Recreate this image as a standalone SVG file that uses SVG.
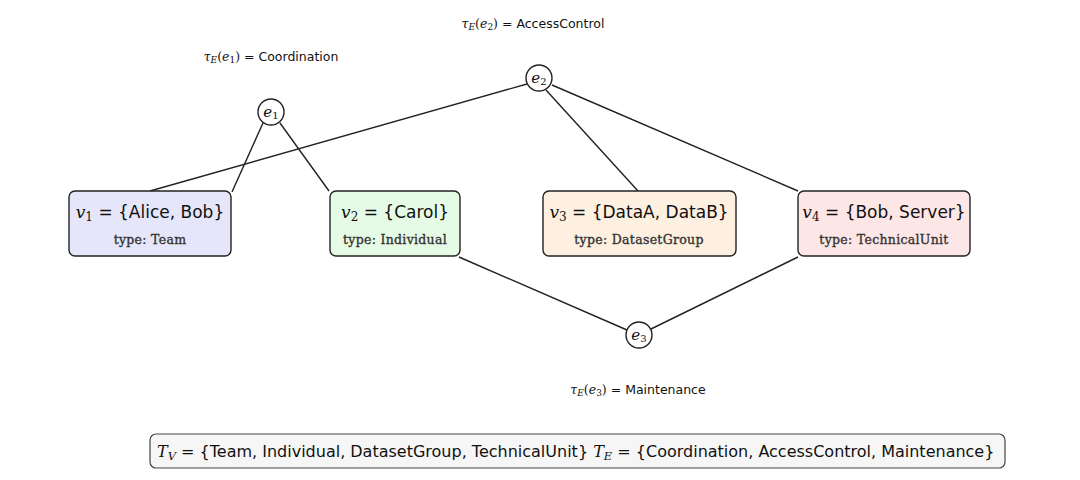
<svg xmlns="http://www.w3.org/2000/svg" width="1080" height="480" viewBox="0 0 1080 480">
<style>
.box{stroke:#222;stroke-width:1.4}
.circ{fill:#fff;stroke:#222;stroke-width:1.4}
.edge{stroke:#222;stroke-width:1.4;fill:none}
.m{font-family:"DejaVu Serif","Liberation Serif",serif;font-style:italic}
.n{font-family:"DejaVu Serif","Liberation Serif",serif;font-style:normal}
.s{font-family:"DejaVu Sans","Liberation Sans",sans-serif;font-style:normal}
.main{font-size:17px;fill:#111}
.type{font-family:"DejaVu Serif","Liberation Serif",serif;font-size:12.5px;letter-spacing:0.3px;fill:#333;stroke:#333;stroke-width:0.35}
.lab{font-size:12.5px;fill:#111}
.ev{font-family:"DejaVu Serif","Liberation Serif",serif;font-style:italic;font-size:15px;fill:#111}
</style>
<g id="connectors">
<line class="edge" x1="263" y1="123" x2="232" y2="192"/>
<line class="edge" x1="280" y1="123" x2="329" y2="191"/>
<line class="edge" x1="527" y1="84" x2="150" y2="191"/>
<line class="edge" x1="546" y1="90" x2="638" y2="191"/>
<line class="edge" x1="552" y1="85" x2="798" y2="191"/>
<line class="edge" x1="459" y1="257" x2="627" y2="330"/>
<line class="edge" x1="798" y1="257" x2="651" y2="329"/>
</g>
<g id="v1">
<rect class="box" x="69" y="191" width="162" height="65" rx="6" fill="#e6e6fb"/>
<text class="main" x="150" y="218" text-anchor="middle"><tspan class="m">v</tspan><tspan class="n" font-size="12" dy="3">1</tspan><tspan class="s" dy="-3"> = {Alice, Bob}</tspan></text>
<text class="type" x="150" y="244" text-anchor="middle">type:  Team</text>
</g>
<g id="v2">
<rect class="box" x="330" y="191" width="130" height="65" rx="6" fill="#e6fbe6"/>
<text class="main" x="395" y="218" text-anchor="middle"><tspan class="m">v</tspan><tspan class="n" font-size="12" dy="3">2</tspan><tspan class="s" dy="-3"> = {Carol}</tspan></text>
<text class="type" x="395" y="244" text-anchor="middle">type:  Individual</text>
</g>
<g id="v3">
<rect class="box" x="543" y="191" width="193" height="65" rx="6" fill="#fdf0e0"/>
<text class="main" x="639" y="218" text-anchor="middle"><tspan class="m">v</tspan><tspan class="n" font-size="12" dy="3">3</tspan><tspan class="s" dy="-3"> = {DataA, DataB}</tspan></text>
<text class="type" x="639" y="244" text-anchor="middle">type:  DatasetGroup</text>
</g>
<g id="v4">
<rect class="box" x="798" y="191" width="172" height="65" rx="6" fill="#fde6e6"/>
<text class="main" x="884" y="218" text-anchor="middle"><tspan class="m">v</tspan><tspan class="n" font-size="12" dy="3">4</tspan><tspan class="s" dy="-3"> = {Bob, Server}</tspan></text>
<text class="type" x="884" y="244" text-anchor="middle">type:  TechnicalUnit</text>
</g>
<g id="e1">
<circle class="circ" cx="271" cy="112" r="13"/>
<text class="ev" x="271" y="117" text-anchor="middle">e<tspan class="n" font-size="10" dy="2">1</tspan></text>
<text class="lab" x="271" y="61" text-anchor="middle"><tspan class="m">τ</tspan><tspan class="m" font-size="9" dy="2">E</tspan><tspan class="n" dy="-2">(</tspan><tspan class="m">e</tspan><tspan class="n" font-size="9" dy="2">1</tspan><tspan class="n" dy="-2">)</tspan><tspan class="s"> = Coordination</tspan></text>
</g>
<g id="e2">
<circle class="circ" cx="539" cy="78" r="13"/>
<text class="ev" x="539" y="83" text-anchor="middle">e<tspan class="n" font-size="10" dy="2">2</tspan></text>
<text class="lab" x="533" y="28" text-anchor="middle"><tspan class="m">τ</tspan><tspan class="m" font-size="9" dy="2">E</tspan><tspan class="n" dy="-2">(</tspan><tspan class="m">e</tspan><tspan class="n" font-size="9" dy="2">2</tspan><tspan class="n" dy="-2">)</tspan><tspan class="s"> = AccessControl</tspan></text>
</g>
<g id="e3">
<circle class="circ" cx="639" cy="335" r="13"/>
<text class="ev" x="639" y="340" text-anchor="middle">e<tspan class="n" font-size="10" dy="2">3</tspan></text>
<text class="lab" x="638" y="394" text-anchor="middle"><tspan class="m">τ</tspan><tspan class="m" font-size="9" dy="2">E</tspan><tspan class="n" dy="-2">(</tspan><tspan class="m">e</tspan><tspan class="n" font-size="9" dy="2">3</tspan><tspan class="n" dy="-2">)</tspan><tspan class="s"> = Maintenance</tspan></text>
</g>
<g id="legend">
<rect x="150" y="434" width="855" height="34" rx="6" fill="#f6f6f6" stroke="#444" stroke-width="1.2"/>
<text x="157" y="457" font-size="16" fill="#111"><tspan class="m">T</tspan><tspan class="m" font-size="11.5" dy="3">V</tspan><tspan class="s" dy="-3"> = {Team, Individual, DatasetGroup, TechnicalUnit} </tspan><tspan class="m">T</tspan><tspan class="m" font-size="11.5" dy="3">E</tspan><tspan class="s" dy="-3"> = {Coordination, AccessControl, Maintenance}</tspan></text>
</g>
</svg>
